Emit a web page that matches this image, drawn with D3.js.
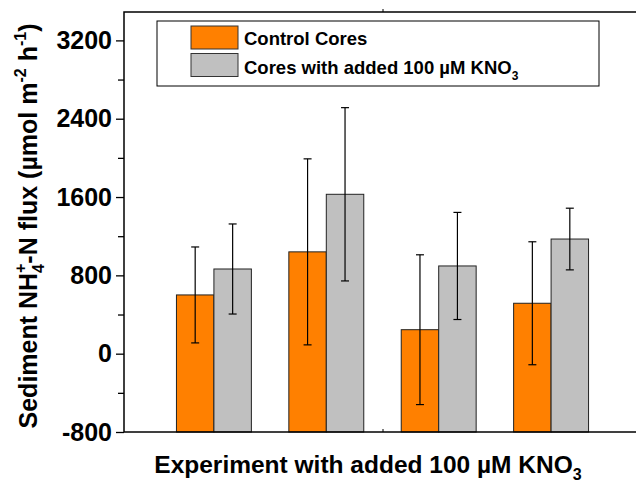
<!DOCTYPE html>
<html>
<head>
<meta charset="utf-8">
<script src="https://cdnjs.cloudflare.com/ajax/libs/d3/7.8.5/d3.min.js"></script>
<style>
  body { margin: 0; background: #fff; }
  text { font-family: "Liberation Sans", Arial, Helvetica, sans-serif; font-weight: bold; }
</style>
</head>
<body>
<div id="chart"></div>
<script>
// experiments (no labels on the axis)
var experiments = [1, 2, 3, 4];
var controlFlux = [600, 1040, 245, 515];
var controlErr = [490, 950, 765, 628];
var addedFlux = [865, 1628, 896, 1171];
var addedErr = [460, 885, 547, 315];
var yTicks = [-800, 0, 800, 1600, 2400, 3200];
var yMinor = [-400, 400, 1200, 2000, 2800];
var xTicks = [2.5];
var seriesNames = ["Control Cores", "Cores with added 100 \u00B5M KNO"];
var seriesColors = ["#ff8000", "#c0c0c0"];

var width = 636;
var height = 482;
var plotL = 124, plotT = 12, plotB = 432, plotR = 641;
var barW = 1 / 3;

var svg = d3.select("#chart")
    .append("svg")
    .attr("width", width)
    .attr("height", height);

var x = d3.scaleLinear().domain([0.2, 4.8]).range([plotL, plotR]);
var y = d3.scaleLinear().domain([-800, 3490]).range([plotB, plotT]);

// bars, both series start from the bottom of the frame
var series = [
    { vals: controlFlux, errs: controlErr, off: -barW, color: seriesColors[0] },
    { vals: addedFlux, errs: addedErr, off: 0, color: seriesColors[1] }
];

series.forEach(function (s) {
    svg.selectAll(null)
        .data(experiments)
        .enter()
        .append("rect")
        .attr("x", function (d) { return x(d + s.off); })
        .attr("width", function (d) { return x(d + s.off + barW) - x(d + s.off); })
        .attr("y", function (d, i) { return y(s.vals[i]); })
        .attr("height", function (d, i) { return y(-800) - y(s.vals[i]); })
        .style("fill", s.color)
        .style("stroke", "#222")
        .style("stroke-width", 1);
});

// error bars
series.forEach(function (s) {
    var g = svg.selectAll(null)
        .data(experiments)
        .enter()
        .append("g")
        .style("stroke", "#000")
        .style("stroke-width", 1.2);
    var cx = function (d) { return x(d + s.off + barW / 2); };
    g.append("line")
        .attr("x1", cx).attr("x2", cx)
        .attr("y1", function (d, i) { return y(s.vals[i] + s.errs[i]); })
        .attr("y2", function (d, i) { return y(s.vals[i] - s.errs[i]); });
    g.append("line")
        .attr("x1", function (d) { return cx(d) - 4; })
        .attr("x2", function (d) { return cx(d) + 4; })
        .attr("y1", function (d, i) { return y(s.vals[i] + s.errs[i]); })
        .attr("y2", function (d, i) { return y(s.vals[i] + s.errs[i]); });
    g.append("line")
        .attr("x1", function (d) { return cx(d) - 4; })
        .attr("x2", function (d) { return cx(d) + 4; })
        .attr("y1", function (d, i) { return y(s.vals[i] - s.errs[i]); })
        .attr("y2", function (d, i) { return y(s.vals[i] - s.errs[i]); });
});

// frame
svg.append("rect")
    .attr("x", plotL)
    .attr("y", plotT)
    .attr("width", plotR - plotL)
    .attr("height", plotB - plotT)
    .style("fill", "none")
    .style("stroke", "#000")
    .style("stroke-width", 1.5);

// y axis, plain hyphen for negatives
var yAxis = d3.axisLeft(y)
    .tickValues(yTicks)
    .tickSize(8)
    .tickPadding(4)
    .tickFormat(function (d) { return String(d); });
var ya = svg.append("g")
    .attr("transform", "translate(" + plotL + ",0)")
    .call(yAxis);
ya.select(".domain").remove();
ya.selectAll("line").style("stroke-width", 1.3);
ya.selectAll("text")
    .style("font-size", "25px")
    .style("fill", "#000");

var ym = svg.append("g")
    .attr("transform", "translate(" + plotL + ",0)")
    .call(d3.axisLeft(y).tickValues(yMinor).tickSize(6).tickFormat(""));
ym.select(".domain").remove();
ym.selectAll("line").style("stroke-width", 1.3);

// x ticks, bottom and top
var xb = svg.append("g")
    .attr("transform", "translate(0," + plotB + ")")
    .call(d3.axisTop(x).tickValues(xTicks).tickSize(3).tickFormat(""));
xb.select(".domain").remove();
var xt = svg.append("g")
    .attr("transform", "translate(0," + plotT + ")")
    .call(d3.axisTop(x).tickValues(xTicks).tickSize(3).tickFormat(""));
xt.select(".domain").remove();

// legend
var leg = svg.append("g");
leg.append("rect")
    .attr("x", 157).attr("y", 21)
    .attr("width", 442).attr("height", 65)
    .style("fill", "#fff")
    .style("stroke", "#000")
    .style("stroke-width", 1);
seriesNames.forEach(function (name, i) {
    leg.append("rect")
        .attr("x", 191).attr("y", 26 + i * 27.5)
        .attr("width", 47).attr("height", 23)
        .style("fill", seriesColors[i])
        .style("stroke", "#333")
        .style("stroke-width", 1);
    var t = leg.append("text")
        .attr("x", 244).attr("y", 45 + i * 29)
        .style("font-size", "18.5px")
        .text(name);
    if (i === 1) {
        t.append("tspan").attr("dy", 6).style("font-size", "12px").text("3");
    }
});

// x title
var xt2 = svg.append("text")
    .attr("x", 368)
    .attr("y", 473)
    .attr("text-anchor", "middle")
    .style("font-size", "24.5px")
    .text("Experiment with added 100 \u00B5M KNO");
xt2.append("tspan").attr("dy", 7).style("font-size", "16px").text("3");

// y title
var yt = svg.append("text")
    .attr("transform", "translate(37,226) rotate(-90)")
    .attr("text-anchor", "middle")
    .style("font-size", "25px")
    .text("Sediment NH");
yt.append("tspan").attr("dy", 7).style("font-size", "16px").text("4");
yt.append("tspan").attr("dy", -18).attr("dx", -9).style("font-size", "16px").text("+");
yt.append("tspan").attr("dy", 11).style("font-size", "25px").text("-N flux (\u00B5mol m");
yt.append("tspan").attr("dy", -11).style("font-size", "16px").text("-2");
yt.append("tspan").attr("dy", 11).style("font-size", "25px").text(" h");
yt.append("tspan").attr("dy", -11).style("font-size", "16px").text("-1");
yt.append("tspan").attr("dy", 11).style("font-size", "25px").text(")");
</script>
</body>
</html>
